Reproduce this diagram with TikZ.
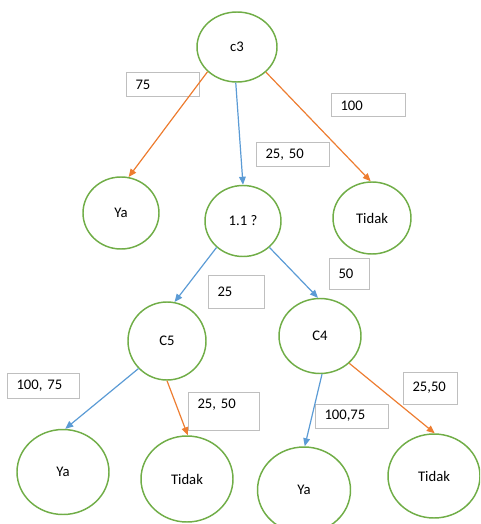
\documentclass[tikz,border=0pt]{standalone}
\usepackage{fontspec}
\setmainfont{Carlito}
\usepackage{tikz}
\usetikzlibrary{shapes.geometric, arrows.meta}
\definecolor{nodegreen}{HTML}{70AD47}
\definecolor{edgeorange}{HTML}{ED7D31}
\definecolor{edgeblue}{HTML}{5B9BD5}
\definecolor{boxgray}{HTML}{BFBFBF}
\tikzstyle{attr} = [ellipse, draw=nodegreen, line width=1.1pt, inner sep=0pt, font=\fontsize{11}{13}\selectfont]
\tikzstyle{weight} = [rectangle, draw=boxgray, line width=0.75pt, anchor=west, inner xsep=6.75pt, inner ysep=0pt, align=left, font=\fontsize{11}{13}\selectfont]
\tikzstyle{bluearrow} = [line width=0.9pt, color=edgeblue, -{Triangle[length=6pt,width=5pt]}]
\tikzstyle{orangearrow} = [line width=0.9pt, color=edgeorange, -{Triangle[length=6pt,width=5pt]}]

\begin{document}
\begin{tikzpicture}[x=0.75pt, y=-0.75pt]
\clip (0,0) rectangle (480,524);

\node (cthree) [attr, minimum width=60pt, minimum height=52.5pt] at (237,47) {c3};
\node (ya1) [attr, minimum width=57pt, minimum height=54pt] at (121,213) {Ya};
\node (q11) [attr, minimum width=57pt, minimum height=53.25pt] at (243,221) {1.1 ?};
\node (tidak1) [attr, minimum width=58.5pt, minimum height=54pt] at (372,218) {Tidak};
\node (cfive) [attr, minimum width=58.5pt, minimum height=58.5pt] at (167,341) {C5};
\node (cfour) [attr, minimum width=61.5pt, minimum height=56.25pt] at (320,336) {C4};
\node (ya2) [attr, minimum width=69pt, minimum height=63.75pt] at (63,472) {Ya};
\node (tidak2) [attr, minimum width=69pt, minimum height=64.5pt] at (187,479) {Tidak};
\node (ya3) [attr, minimum width=69.75pt, minimum height=64.5pt] at (304,490) {Ya};
\node (tidak3) [attr, minimum width=69pt, minimum height=63pt] at (434,476) {Tidak};

\node (w75) [weight, text width=41.25pt, minimum height=18pt] at (126,85) {75};
\node (w100) [weight, text width=42pt, minimum height=17.25pt] at (331,105.5) {100};
\node (w2550a) [weight, text width=41.25pt, minimum height=17.25pt] at (256,154.5) {25, 50};
\node (w25) [weight, text width=28.5pt, minimum height=24.75pt] at (208,291.5) {25};
\node (w50) [weight, text width=16.5pt, minimum height=23.25pt] at (329,273.5) {50};
\node (w10075a) [weight, text width=40.5pt, minimum height=18.75pt] at (7,385.5) {100, 75};
\node (w2550b) [weight, text width=39.75pt, minimum height=28.5pt, text depth=11pt] at (188,411) {25, 50};
\node (w10075b) [weight, text width=41.25pt, minimum height=18pt] at (315,416) {100,75};
\node (w2550c) [weight, text width=27pt, minimum height=24pt] at (403,388) {25,50};

\draw [orangearrow] (cthree.220) -- (ya1.78);
\draw [bluearrow] (cthree.268) -- (q11.90);
\draw [orangearrow] (cthree.319) -- (tidak1.92);
\draw [bluearrow] (q11.225) -- (cfive.79);
\draw [bluearrow] (q11.315) -- (cfour.93);
\draw [bluearrow] (cfive.224) -- (ya2.87);
\draw [orangearrow] (cfive.270) -- (tidak2.89);
\draw [bluearrow] (cfour.273) -- (ya3.89);
\draw [orangearrow] (cfour.317) -- (tidak3.89);
\end{tikzpicture}
\end{document}
